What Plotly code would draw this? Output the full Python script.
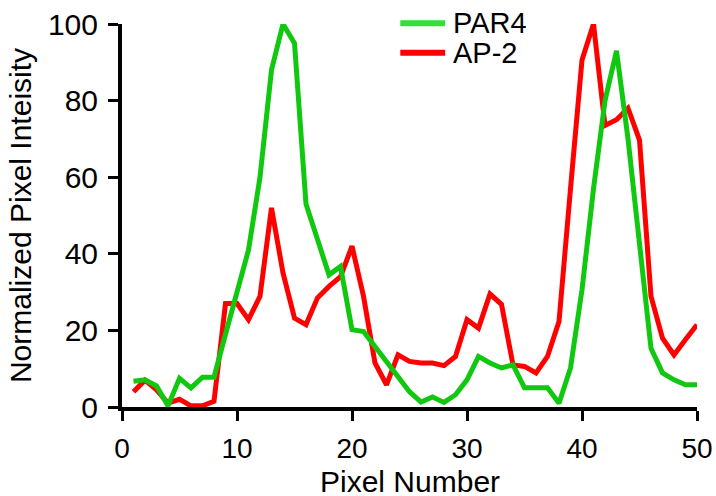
import plotly.graph_objects as go

pixel = list(range(1, 51))
par4 = [6.7, 7.1, 5.5, 0.3, 7.5, 5.0, 7.8, 7.8, 19, 30,
        41, 60, 88, 100, 95, 53, 44, 34.5, 36.7, 20.2,
        19.7, 15.8, 11.5, 8, 4, 1.3, 2.6, 1.2, 3.2, 7.1,
        13.2, 11.5, 10.2, 11, 5, 5, 5, 1, 10.2, 30.6,
        57, 80, 93, 70, 44, 15.3, 8.9, 7.1, 5.8, 5.8]
ap2 = [4, 7, 4.5, 1, 2, 0.3, 0.3, 1.5, 27, 27,
       22.8, 28.9, 52, 35, 23.2, 21.5, 28.5, 31.5, 34, 42,
       28.9, 11.5, 5.8, 13.6, 11.9, 11.5, 11.5, 10.8, 13.2, 22.8,
       20.6, 29.5, 26.8, 11, 10.6, 8.9, 13.2, 22.3, 57, 90.6,
       100, 73.5, 75, 78, 69.7, 28.9, 18, 13.6, 17.6, 21.5]
x_ticks = [0, 10, 20, 30, 40, 50]
y_ticks = [0, 20, 40, 60, 80, 100]
series_names = ["PAR4", "AP-2"]
x_title = "Pixel Number"
y_title = "Normalized Pixel Inteisity"

GREEN = "#11c811"
RED = "#ff0000"
FONT = "Liberation Sans, Arial"

fig = go.Figure()
fig.add_trace(go.Scatter(x=pixel, y=ap2, mode="lines", name=series_names[1],
                         line=dict(color=RED, width=5)))
fig.add_trace(go.Scatter(x=pixel, y=par4, mode="lines", name=series_names[0],
                         line=dict(color=GREEN, width=5)))

# manual legend (tight line spacing as in the reference)
leg = [(series_names[0], "#33e033", 1.002), (series_names[1], RED, 0.925)]
for name, col, yy in leg:
    fig.add_shape(type="line", xref="paper", yref="paper",
                  x0=0.484, x1=0.562, y0=yy, y1=yy,
                  line=dict(color=col, width=6))
    fig.add_annotation(text=name, xref="paper", yref="paper", x=0.574, y=yy,
                       xanchor="left", yanchor="middle", showarrow=False,
                       height=24, valign="middle", borderpad=0,
                       font=dict(family=FONT, size=29, color="black"))

# x-axis title placed as an annotation so it can sit lower in the margin
fig.add_annotation(text=x_title, xref="paper", yref="paper", x=0.5, y=-0.1925,
                   xanchor="center", yanchor="middle", showarrow=False,
                   height=26, valign="middle", borderpad=0,
                   font=dict(family=FONT, size=30, color="black"))

fig.update_layout(
    width=716, height=496, autosize=False,
    margin=dict(l=122, r=19, t=24, b=89),
    plot_bgcolor="white", paper_bgcolor="white",
    showlegend=False,
    font=dict(family=FONT, color="black"),
)
fig.update_xaxes(
    range=[0, 50], tickvals=x_ticks, ticktext=[str(v) for v in x_ticks],
    showgrid=False, zeroline=False, automargin=False,
    showline=True, linecolor="black", linewidth=4,
    ticks="outside", ticklen=10, tickwidth=3, tickcolor="black",
    ticklabelstandoff=3,
    tickfont=dict(family=FONT, size=28),
)
fig.update_yaxes(
    range=[0, 100], tickvals=y_ticks, ticktext=[str(v) for v in y_ticks],
    showgrid=False, zeroline=False, automargin=False,
    showline=True, linecolor="black", linewidth=4,
    ticks="outside", ticklen=10, tickwidth=3, tickcolor="black",
    ticklabelstandoff=4,
    tickfont=dict(family=FONT, size=30),
    title=dict(text=y_title, standoff=8,
               font=dict(family=FONT, size=30)),
)

fig.write_html("out.html")
